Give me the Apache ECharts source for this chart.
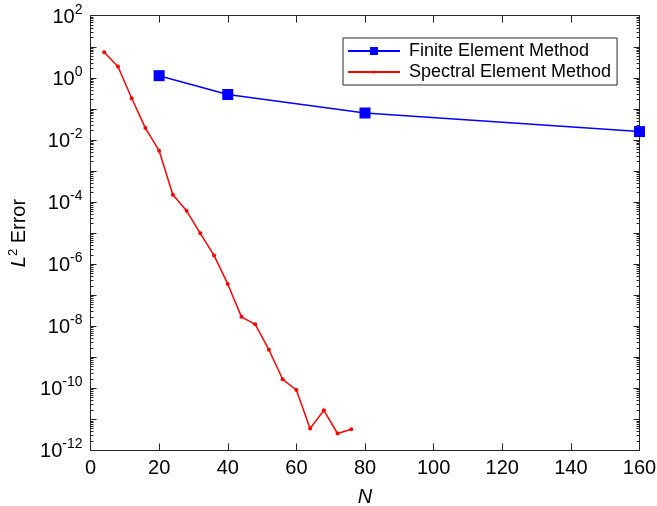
<!DOCTYPE html>
<html>
<head>
<meta charset="utf-8">
<script src="https://cdn.jsdelivr.net/npm/echarts@6/dist/echarts.min.js"></script>
<style>html,body{margin:0;padding:0;background:#fff;}#c{width:657px;height:506px;}</style>
</head>
<body>
<div id="c"></div>
<script>
// ---- data ----
var femN = [20, 40, 80, 160];
var femErr = [1.17, 0.29, 0.0735, 0.0185];
var semN = [4, 8, 12, 16, 20, 24, 28, 32, 36, 40, 44, 48, 52, 56, 60, 64, 68, 72, 76];
var semErr = [6.6, 2.3, 0.22, 0.024, 0.0045, 1.7e-4, 5.2e-5, 9.8e-6, 1.9e-6, 2.3e-7, 2.0e-8, 1.15e-8, 1.75e-9, 1.95e-10, 8.8e-11, 5.1e-12, 1.95e-11, 3.5e-12, 4.8e-12];
var xTicks = [0, 20, 40, 60, 80, 100, 120, 140, 160];
var yLabelExp = [-12, -10, -8, -6, -4, -2, 0, 2];
var seriesNames = ['Finite Element Method', 'Spectral Element Method'];

var yLabelVals = yLabelExp.map(function (e) { return Math.pow(10, e); });
var decadeVals = [];
var minorVals = [];
for (var e = -12; e <= 2; e++) {
  decadeVals.push(Math.pow(10, e));
  if (e < 2) for (var m = 2; m <= 9; m++) minorVals.push(m * Math.pow(10, e));
}
var axisColor = '#262626';
var font = 'Liberation Sans, Arial, Helvetica, sans-serif';

function yAx(pos, tickVals, len, showLabel) {
  return {
    type: 'log', logBase: 10, min: 1e-12, max: 100, position: pos,
    axisLine: { show: true, lineStyle: { color: axisColor, width: 1 } },
    axisTick: { show: true, inside: true, length: len, customValues: tickVals, lineStyle: { color: axisColor, width: 1 } },
    splitLine: { show: false },
    axisLabel: showLabel ? {
      show: true, customValues: yLabelVals, margin: 8,
      formatter: function (v) { return '{b|10}{s|' + Math.round(Math.log10(v)) + '}'; },
      rich: {
        b: { fontSize: 20, fontFamily: font, color: '#000', padding: [3, 0, 0, 0] },
        s: { fontSize: 14, fontFamily: font, color: '#000', padding: [0, 0, 12, 0] }
      }
    } : { show: false }
  };
}

var chart = echarts.init(document.getElementById('c'));
var yMain = yAx('left', decadeVals, 6, true);
yMain.name = '{i|L}{s|2}{b| Error}';
yMain.nameLocation = 'middle';
yMain.nameGap = 57;
yMain.nameTextStyle = {
  rich: {
    i: { fontSize: 20, fontStyle: 'italic', fontFamily: font, color: '#000' },
    s: { fontSize: 13, fontFamily: font, color: '#000', padding: [0, 0, 12, 0] },
    b: { fontSize: 20, fontFamily: font, color: '#000' }
  }
};

var legendText = { fontSize: 18, fontFamily: font, color: '#000', padding: [0, 0, 0, 4] };

chart.setOption({
  animation: false,
  backgroundColor: '#fff',
  grid: { left: 90.5, right: 17.5, top: 15.7, bottom: 55.6, containLabel: false, outerBoundsMode: 'none' },
  legend: [{
    orient: 'vertical', left: 343, top: 38, z: 4,
    padding: [4, 28, 25, 4], itemGap: 3, itemWidth: 52, itemHeight: 10,
    borderColor: '#262626', borderWidth: 1, backgroundColor: '#fff',
    textStyle: legendText,
    data: [seriesNames[0]]
  }, {
    orient: 'vertical', left: 347, top: 63, z: 6,
    padding: 0, itemWidth: 52, itemHeight: 4,
    backgroundColor: 'transparent',
    textStyle: legendText,
    data: [seriesNames[1]]
  }],
  xAxis: [{
    type: 'value', min: 0, max: 160, interval: 20, position: 'bottom',
    name: 'N', nameLocation: 'middle', nameGap: 37,
    nameTextStyle: { fontSize: 20, fontStyle: 'italic', fontFamily: font, color: '#000' },
    axisLine: { show: true, lineStyle: { color: axisColor } },
    axisTick: { show: true, inside: true, length: 7, lineStyle: { color: axisColor } },
    axisLabel: { fontSize: 20, fontFamily: font, color: '#000', margin: 8,
      customValues: xTicks },
    splitLine: { show: false }
  }, {
    type: 'value', min: 0, max: 160, interval: 20, position: 'top',
    axisLine: { show: true, lineStyle: { color: axisColor } },
    axisTick: { show: true, inside: true, length: 7, lineStyle: { color: axisColor } },
    axisLabel: { show: false },
    splitLine: { show: false }
  }],
  yAxis: [yMain, yAx('left', minorVals, 3, false), yAx('right', decadeVals, 6, false), yAx('right', minorVals, 3, false)],
  series: [{
    name: seriesNames[0], type: 'line', xAxisIndex: 0, yAxisIndex: 0,
    data: femN.map(function (n, i) { return [n, femErr[i]]; }),
    symbol: 'rect', symbolSize: 11, showAllSymbol: true,
    lineStyle: { color: '#0000ff', width: 1.5 },
    itemStyle: { color: '#0000ff' }
  }, {
    name: seriesNames[1], type: 'line', xAxisIndex: 0, yAxisIndex: 0,
    data: semN.map(function (n, i) { return [n, semErr[i]]; }),
    symbol: 'circle', symbolSize: 4, showAllSymbol: true,
    lineStyle: { color: '#ff0000', width: 1.5 },
    itemStyle: { color: '#ff0000' }
  }]
});
</script>
</body>
</html>
